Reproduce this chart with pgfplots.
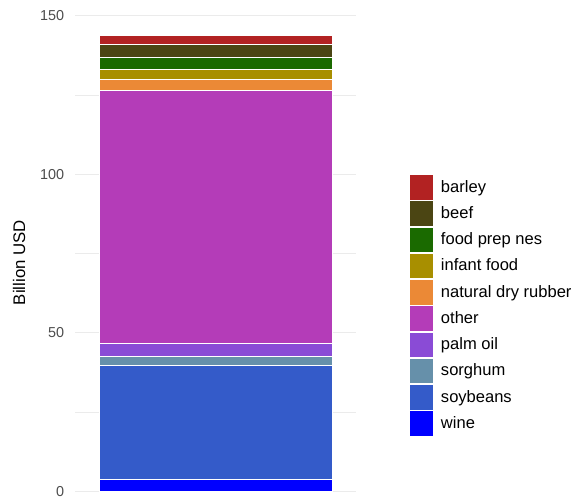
\documentclass[border=0pt]{standalone}
\usepackage{fontspec}
\setmainfont{Liberation Sans}
\usepackage{pgfplots}
\pgfplotsset{compat=1.18}
\definecolor{cbarley}{HTML}{B22222}
\definecolor{cbeef}{HTML}{4B4513}
\definecolor{cfood}{HTML}{1A6A00}
\definecolor{cinfant}{HTML}{A88F00}
\definecolor{crubber}{HTML}{EB8936}
\definecolor{cother}{HTML}{B43CB8}
\definecolor{cpalm}{HTML}{8A4BD6}
\definecolor{csorghum}{HTML}{6690AA}
\definecolor{csoy}{HTML}{345BC9}
\definecolor{cwine}{HTML}{0000FF}
\definecolor{gridc}{HTML}{EBEBEB}
\definecolor{tickc}{HTML}{4D4D4D}
\begin{document}
\begin{tikzpicture}
\path[use as bounding box] (0,0) rectangle (432pt,375.75pt);
\begin{axis}[
  at={(56.25pt,4.9pt)}, anchor=south west,
  scale only axis, width=210.75pt, height=361.6pt,
  xmin=0, xmax=1, ymin=-1, ymax=151,
  axis line style={draw=none},
  xtick=\empty,
  ytick={0,50,100,150},
  minor ytick={25,75,125},
  ymajorgrids, yminorgrids,
  major grid style={gridc, line width=0.8pt},
  minor grid style={gridc, line width=0.4pt},
  tick style={draw=none},
  /pgf/number format/assume math mode=true,
  yticklabel style={font=\fontsize{10.8}{12}\selectfont, text=tickc, inner sep=0pt, xshift=-8pt},
  every axis y label/.style={at={(axis description cs:-0.1993,0.481)}, rotate=90, anchor=center},
  ylabel={\fontsize{12.6}{14}\selectfont Billion USD},
  ybar stacked, bar width=174.75pt,
  reverse legend,
  legend cell align=left,
  legend style={at={(1.1886,0.6647)}, anchor=north west, draw=none, fill=none,
    inner sep=0pt, outer sep=0pt, row sep=0pt, column sep=5.5pt,
    nodes={inner sep=0pt}, font=\fontsize{12.4}{14}\selectfont},
  legend image code/.code={\fill[#1] (0pt,-9pt) rectangle (18pt,9pt); \path (0pt,-9.6pt) rectangle (18pt,9.6pt);},
]
\addplot[fill=cwine, draw=white, line width=0.5pt] coordinates {(0.5,3.8)};
\addlegendentry{wine}
\addplot[fill=csoy, draw=white, line width=0.5pt] coordinates {(0.5,35.9)};
\addlegendentry{soybeans}
\addplot[fill=csorghum, draw=white, line width=0.5pt] coordinates {(0.5,3.0)};
\addlegendentry{sorghum}
\addplot[fill=cpalm, draw=white, line width=0.5pt] coordinates {(0.5,3.8)};
\addlegendentry{palm oil}
\addplot[fill=cother, draw=white, line width=0.5pt] coordinates {(0.5,79.8)};
\addlegendentry{other}
\addplot[fill=crubber, draw=white, line width=0.5pt] coordinates {(0.5,3.7)};
\addlegendentry{natural dry rubber}
\addplot[fill=cinfant, draw=white, line width=0.5pt] coordinates {(0.5,2.9)};
\addlegendentry{infant food}
\addplot[fill=cfood, draw=white, line width=0.5pt] coordinates {(0.5,3.9)};
\addlegendentry{food prep nes}
\addplot[fill=cbeef, draw=white, line width=0.5pt] coordinates {(0.5,4.0)};
\addlegendentry{beef}
\addplot[fill=cbarley, draw=white, line width=0.5pt] coordinates {(0.5,3.0)};
\addlegendentry{barley}
\end{axis}
\end{tikzpicture}
\end{document}
